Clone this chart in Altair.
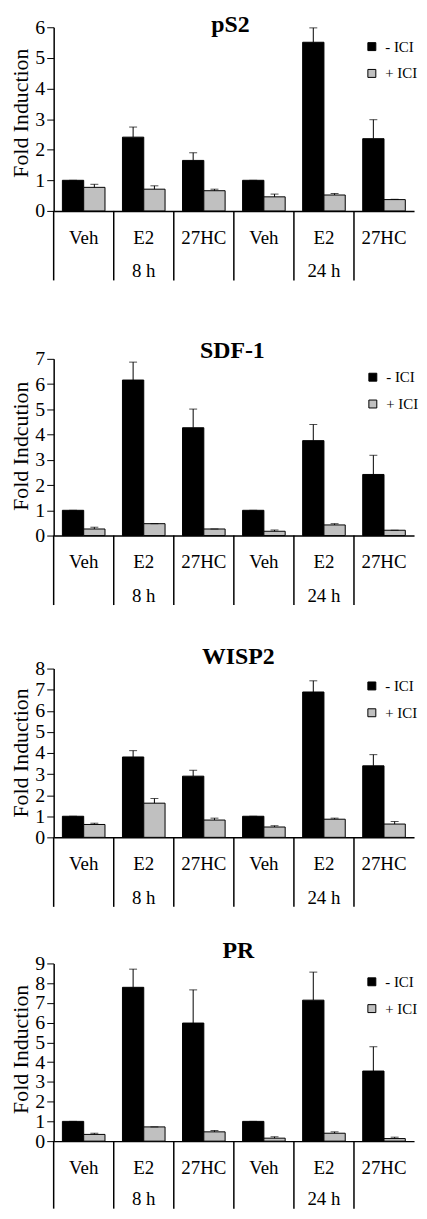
import altair as alt
import pandas as pd

FONT = "Liberation Serif"

groups = ["Veh 8h", "E2 8h", "27HC 8h", "Veh 24h", "E2 24h", "27HC 24h"]
conds = ["Veh", "E2", "27HC", "Veh", "E2", "27HC"]
times = ["", "8 h", "", "", "24 h", ""]
series = ["- ICI", "+ ICI"]

# pS2
ps2_black = [1.0, 2.41, 1.65, 1.0, 5.51, 2.36]
ps2_black_err = [0.0, 0.33, 0.25, 0.0, 0.47, 0.62]
ps2_gray = [0.77, 0.71, 0.66, 0.46, 0.52, 0.37]
ps2_gray_err = [0.10, 0.11, 0.05, 0.09, 0.05, 0.01]

# SDF-1
sdf_black = [1.0, 6.16, 4.27, 1.0, 3.76, 2.42]
sdf_black_err = [0.0, 0.71, 0.74, 0.0, 0.64, 0.76]
sdf_gray = [0.26, 0.47, 0.26, 0.17, 0.42, 0.21]
sdf_gray_err = [0.07, 0.0, 0.0, 0.05, 0.05, 0.0]

# WISP2
wisp_black = [1.0, 3.81, 2.90, 1.0, 6.89, 3.39]
wisp_black_err = [0.0, 0.30, 0.28, 0.0, 0.53, 0.53]
wisp_gray = [0.61, 1.62, 0.82, 0.49, 0.86, 0.63]
wisp_gray_err = [0.06, 0.22, 0.09, 0.06, 0.05, 0.12]

# PR
pr_black = [1.0, 7.79, 5.98, 1.0, 7.14, 3.55]
pr_black_err = [0.0, 0.92, 1.68, 0.0, 1.42, 1.23]
pr_gray = [0.34, 0.72, 0.47, 0.15, 0.40, 0.13]
pr_gray_err = [0.06, 0.0, 0.07, 0.07, 0.07, 0.07]


def panel(name, ytitle, ymax, bv, be, gv, ge, width, height,
          title_x, title_y, ytitle_dy, leg_x, leg_y, top_bound, sep_len=70, time_y=61):
    rows = []
    for i, g in enumerate(groups):
        rows.append(dict(group=g, series=series[0], value=bv[i], top=bv[i] + be[i]))
        rows.append(dict(group=g, series=series[1], value=gv[i], top=gv[i] + ge[i]))
    df = pd.DataFrame(rows)
    lab = pd.DataFrame(dict(group=groups, cond=conds, time=times))
    ttl = pd.DataFrame(dict(t=[name], yt=[ytitle]))

    xs = alt.Scale(domain=groups, paddingInner=0, paddingOuter=0)
    xo = alt.Scale(domain=series, paddingInner=0, paddingOuter=0.41)
    ys = alt.Scale(domain=[0, ymax], nice=False)
    xaxis = alt.Axis(labels=False, ticks=False, title=None)
    yaxis = alt.Axis(values=list(range(ymax + 1)), title=None)

    X = alt.X("group:N", scale=xs, sort=groups, axis=xaxis)
    XO = alt.XOffset("series:N", scale=xo, sort=series)

    base = alt.Chart(df)
    bars = base.mark_bar(stroke="black", strokeWidth=1).encode(
        x=X, xOffset=XO,
        y=alt.Y("value:Q", scale=ys, axis=yaxis),
        color=alt.Color("series:N", sort=series,
                        scale=alt.Scale(domain=series, range=["black", "#c0c0c0"]),
                        legend=alt.Legend(orient="none", legendX=leg_x, legendY=leg_y,
                                          title=None)),
    )
    err = base.mark_rule(color="black", strokeWidth=1).encode(
        x=X, xOffset=XO,
        y=alt.Y("value:Q", scale=ys, axis=yaxis),
        y2="top:Q",
    )
    cap = base.mark_tick(color="black", thickness=1, size=8).encode(
        x=X, xOffset=XO,
        y=alt.Y("top:Q", scale=ys, axis=yaxis),
    )
    lbase = alt.Chart(lab)
    seps = lbase.mark_rule(color="black", strokeWidth=1.5).encode(
        x=alt.X("group:N", scale=xs, sort=groups, bandPosition=0, axis=xaxis),
        y=alt.value(height), y2=alt.value(height + sep_len),
    )
    ctext = lbase.mark_text(font=FONT, fontSize=19, color="black", baseline="middle").encode(
        x=X, y=alt.value(height + 27), text="cond:N",
    )
    ttext = lbase.mark_text(font=FONT, fontSize=19, color="black", baseline="middle").encode(
        x=X, y=alt.value(height + time_y), text="time:N",
    )
    spacer = lbase.mark_rule(strokeOpacity=0).encode(
        x=alt.value(-46), y=alt.value(-top_bound), y2=alt.value(height + sep_len),
    )
    tbase = alt.Chart(ttl)
    title = tbase.mark_text(font=FONT, fontSize=24, fontWeight="bold",
                            color="black", baseline="alphabetic",
                            align="center").encode(
        x=alt.value(title_x), y=alt.value(title_y), text="t:N",
    )
    ytitle_mark = tbase.mark_text(font=FONT, fontSize=22, color="black", angle=270,
                                  baseline="middle", align="center").encode(
        x=alt.value(-33), y=alt.value(height / 2 + ytitle_dy), text="yt:N",
    )
    return alt.layer(spacer, bars, err, cap, seps, ctext, ttext, title,
                     ytitle_mark).properties(width=width, height=height)


p1 = panel("pS2", "Fold Induction", 6, ps2_black, ps2_black_err, ps2_gray, ps2_gray_err,
           363, 185, 178, 5, -6, 313, 12, 15)
p2 = panel("SDF-1", "Fold Indcution", 7, sdf_black, sdf_black_err, sdf_gray, sdf_gray_err,
           363, 178, 180, -1, -1, 314, 11, 78)
p3 = panel("WISP2", "Fold Induction", 8, wisp_black, wisp_black_err, wisp_gray, wisp_gray_err,
           363, 170, 186, -5, 0, 313, 10, 63)
p4 = panel("PR", "Fold Induction", 9, pr_black, pr_black_err, pr_gray, pr_gray_err,
           363, 179, 186, -5, -3, 313, 11, 56, sep_len=68, time_y=58)

chart = alt.vconcat(p1, p2, p3, p4, spacing=0, padding=0).resolve_scale(
    color="independent", x="independent", y="independent", xOffset="independent"
).resolve_legend(color="independent").configure_view(
    stroke=None
).configure_axis(
    grid=False, domainColor="black", domainWidth=1.5, tickColor="black", tickSize=7,
    labelFont=FONT, labelFontSize=20, labelColor="black", labelPadding=2,
    labelOverlap=False,
).configure_legend(
    symbolType="square", symbolSize=64, symbolStrokeColor="black", symbolStrokeWidth=1,
    labelFont=FONT, labelFontSize=15, labelColor="black", rowPadding=11,
    labelOffset=6, padding=0,
)

chart.save("out.html", embed_options={"renderer": "svg", "actions": False})
